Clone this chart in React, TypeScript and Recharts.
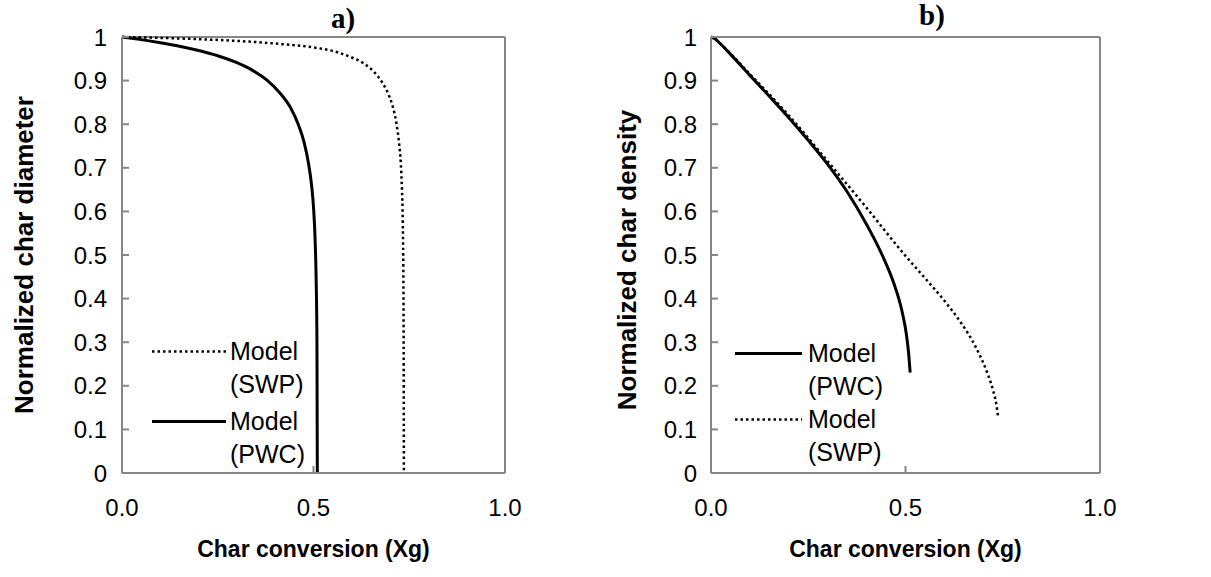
import React from 'react';
import { LineChart, Line, XAxis, YAxis, Legend, ReferenceLine } from 'recharts';

const FONT = '"Liberation Sans", Arial, sans-serif';
const SERIF = '"Liberation Serif", "Times New Roman", serif';
const AXIS_GRAY = '#868686';

// tick labels
const yTicks = [0, 0.1, 0.2, 0.3, 0.4, 0.5, 0.6, 0.7, 0.8, 0.9, 1];
const xTicks = [0, 0.5, 1];

// a) normalized char diameter
const diamPwcX = [0, 0.05, 0.1, 0.15, 0.2, 0.25, 0.3, 0.34, 0.38, 0.41, 0.44, 0.46, 0.475, 0.487, 0.495, 0.5, 0.504, 0.507, 0.509, 0.51];
const diamPwcY = [1, 0.994, 0.987, 0.979, 0.969, 0.957, 0.941, 0.924, 0.9, 0.874, 0.838, 0.8, 0.76, 0.71, 0.66, 0.61, 0.54, 0.44, 0.3, 0];
const diamSwpX = [0, 0.1, 0.2, 0.3, 0.4, 0.5, 0.55, 0.6, 0.63, 0.66, 0.68, 0.695, 0.707, 0.716, 0.723, 0.728, 0.731, 0.733, 0.735, 0.736];
const diamSwpY = [1, 0.998, 0.995, 0.991, 0.985, 0.976, 0.968, 0.953, 0.94, 0.918, 0.895, 0.87, 0.84, 0.805, 0.76, 0.71, 0.65, 0.58, 0.4, 0];

// b) normalized char density
const densPwcX = [0, 0.01, 0.02, 0.04, 0.1, 0.15, 0.2, 0.25, 0.3, 0.35, 0.4, 0.44, 0.47, 0.49, 0.502, 0.508, 0.512];
const densPwcY = [1, 0.996, 0.988, 0.97, 0.912, 0.864, 0.815, 0.763, 0.708, 0.645, 0.57, 0.5, 0.435, 0.375, 0.32, 0.275, 0.23];
const densSwpX = [0, 0.01, 0.02, 0.04, 0.1, 0.2, 0.3, 0.4, 0.5, 0.55, 0.6, 0.64, 0.68, 0.71, 0.725, 0.734, 0.738];
const densSwpY = [1, 0.996, 0.988, 0.971, 0.915, 0.82, 0.715, 0.608, 0.498, 0.447, 0.395, 0.348, 0.29, 0.23, 0.19, 0.155, 0.128];

const toPoints = (xs: number[], ys: number[]) => xs.map((x, i) => ({ x, y: ys[i] }));

const lineStyles: Record<string, { width: number; dash?: string }> = {
  'Model (PWC)': { width: 3 },
  'Model (SWP)': { width: 2.5, dash: '2.5 3' },
};

const LegendBox = ({ payload, order, gap, sample, sampleGap }: any) => {
  const items = [...(payload || [])].sort((a: any, b: any) => order.indexOf(a.value) - order.indexOf(b.value));
  return (
    <div style={{ fontFamily: FONT, fontSize: 25, lineHeight: '33px', color: '#000' }}>
      {items.map((p: any, i: number) => {
        const [first, second] = String(p.value).split(' ');
        const st = lineStyles[p.value];
        return (
          <div key={i} style={{ display: 'flex', alignItems: 'flex-start', marginBottom: gap }}>
            <svg width={sample} height={33} style={{ marginRight: sampleGap, flex: 'none' }}>
              <line x1={0} x2={sample} y1={16.5} y2={16.5} stroke="#000" strokeWidth={st.width} strokeDasharray={st.dash} />
            </svg>
            <div>
              {first}
              <br />
              {second}
            </div>
          </div>
        );
      })}
    </div>
  );
};

const tickStyle = { fill: '#000', fontSize: 24, fontFamily: FONT };

interface PanelProps {
  title: string;
  titleX: number;
  titleY: number;
  yTitle: string;
  yTitleX: number;
  yTitleY: number;
  series: { name: string; data: { x: number; y: number }[] }[];
  width: number;
  margin: { top: number; right: number; left: number; bottom: number };
  yAxisWidth: number;
  xAxisHeight: number;
  yTickMargin: number;
  legendPos: { left: number; top: number; gap: number; sample: number; sampleGap: number };
}

const Panel: React.FC<PanelProps> = (p) => (
  <LineChart width={p.width} height={577} margin={p.margin}>
    <XAxis
      type="number"
      dataKey="x"
      domain={[0, 1]}
      ticks={xTicks}
      interval={0}
      tickFormatter={(v: number) => v.toFixed(1)}
      height={p.xAxisHeight}
      tick={tickStyle}
      tickSize={-7}
      tickMargin={33}
      axisLine={{ stroke: AXIS_GRAY, strokeWidth: 2 }}
      tickLine={{ stroke: AXIS_GRAY, strokeWidth: 2 }}
      label={{
        value: 'Char conversion (Xg)',
        position: 'insideBottom',
        offset: 20,
        style: { fontFamily: FONT, fontSize: 23, fontWeight: 'bold', fill: '#000' },
      }}
    />
    <YAxis
      type="number"
      domain={[0, 1]}
      ticks={yTicks}
      interval={0}
      width={p.yAxisWidth}
      tick={tickStyle}
      tickSize={-7}
      tickMargin={p.yTickMargin}
      axisLine={{ stroke: AXIS_GRAY, strokeWidth: 2 }}
      tickLine={{ stroke: AXIS_GRAY, strokeWidth: 2 }}
      label={() => (
        <text
          x={p.yTitleX}
          y={p.yTitleY}
          transform={`rotate(-90, ${p.yTitleX}, ${p.yTitleY})`}
          textAnchor="middle"
          dominantBaseline="central"
          fontFamily={FONT}
          fontSize={26}
          fontWeight="bold"
          fill="#000"
        >
          {p.yTitle}
        </text>
      )}
    />
    <ReferenceLine y={1} stroke={AXIS_GRAY} strokeWidth={2} />
    <ReferenceLine x={1} stroke={AXIS_GRAY} strokeWidth={2} />
    {p.series.map((s) => (
      <Line
        key={s.name}
        name={s.name}
        data={s.data}
        dataKey="y"
        type="monotone"
        stroke="#000"
        strokeWidth={lineStyles[s.name].width}
        strokeDasharray={lineStyles[s.name].dash}
        dot={false}
        activeDot={false}
        isAnimationActive={false}
      />
    ))}
    <Legend
      layout="vertical"
      align="center"
      verticalAlign="middle"
      wrapperStyle={{ left: p.legendPos.left, top: p.legendPos.top, width: 'auto', height: 'auto' }}
      content={(props: any) => (
        <LegendBox
          payload={props.payload}
          order={p.series.map((s) => s.name)}
          gap={p.legendPos.gap}
          sample={p.legendPos.sample}
          sampleGap={p.legendPos.sampleGap}
        />
      )}
    />
    <text
      x={p.titleX}
      y={p.titleY}
      textAnchor="middle"
      dominantBaseline="central"
      fontFamily={SERIF}
      fontSize={29}
      fontWeight="bold"
      fill="#000"
    >
      {p.title}
    </text>
  </LineChart>
);

export default function App() {
  return (
    <div style={{ position: 'absolute', left: 0, top: 0, width: 1211, height: 577, background: '#fff' }}>
      <div style={{ position: 'absolute', left: 0, top: 0 }}>
        <Panel
          title="a)"
          titleX={343}
          titleY={18}
          yTitle="Normalized char diameter"
          yTitleX={24}
          yTitleY={255}
          series={[
            { name: 'Model (SWP)', data: toPoints(diamSwpX, diamSwpY) },
            { name: 'Model (PWC)', data: toPoints(diamPwcX, diamPwcY) },
          ]}
          width={540}
          margin={{ top: 37, right: 35, left: 0, bottom: 0 }}
          yAxisWidth={122}
          xAxisHeight={104}
          yTickMargin={22}
          legendPos={{ left: 152, top: 335, gap: 4, sample: 74, sampleGap: 4 }}
        />
      </div>
      <div style={{ position: 'absolute', left: 580, top: 0 }}>
        <Panel
          title="b)"
          titleX={352}
          titleY={15}
          yTitle="Normalized char density"
          yTitleX={47}
          yTitleY={260}
          series={[
            { name: 'Model (PWC)', data: toPoints(densPwcX, densPwcY) },
            { name: 'Model (SWP)', data: toPoints(densSwpX, densSwpY) },
          ]}
          width={560}
          margin={{ top: 37, right: 40, left: 0, bottom: 0 }}
          yAxisWidth={131}
          xAxisHeight={104}
          yTickMargin={21}
          legendPos={{ left: 155, top: 337, gap: 0, sample: 67, sampleGap: 6 }}
        />
      </div>
    </div>
  );
}
